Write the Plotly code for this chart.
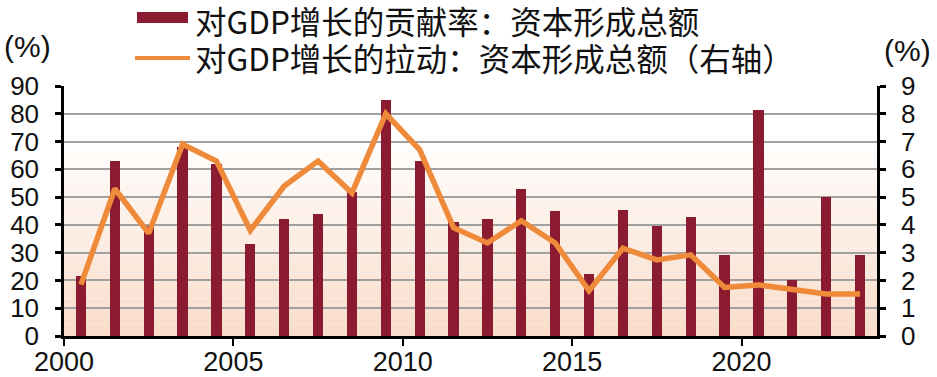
import plotly.graph_objects as go

years = list(range(2000, 2024))
contribution = [21.5, 63, 39.5, 68, 62, 33, 42, 44, 52, 85, 63, 41,
                42, 53, 45, 22.5, 45.5, 39.5, 43, 29, 81.5, 20, 50, 29]
pull = [1.85, 5.3, 3.7, 6.9, 6.3, 3.8, 5.4, 6.3, 5.15, 8.0, 6.7, 3.9,
        3.35, 4.15, 3.35, 1.63, 3.16, 2.74, 2.92, 1.75, 1.84, 1.68, 1.51, 1.51]
x_ticks = [2000, 2005, 2010, 2015, 2020]
name_bar = "对GDP增长的贡献率：资本形成总额"
name_line = "对GDP增长的拉动：资本形成总额（右轴）"

BAR = "#8B1B30"
LINE = "#EE8A3A"
W, H = 937, 377
L, R, T, B = 64, 60, 86, 41
PW, PH = W - L - R, H - T - B

def px(x):
    return (x - L) / PW

def py(y):
    return (H - B - y) / PH

xs = [y + 0.5 for y in years]

fig = go.Figure()
fig.add_trace(go.Bar(x=xs, y=contribution, width=0.3, marker_color=BAR,
                     marker_line_width=0, name=name_bar, showlegend=False))
fig.add_trace(go.Scatter(x=xs, y=pull, yaxis="y2", mode="lines",
                         line=dict(color=LINE, width=5.5), name=name_line,
                         showlegend=False))

shapes = []
n = 40
for i in range(n):
    t0 = i / n
    t1 = (i + 1) / n
    f = max(0.0, 1 - (t0 / 0.8))
    r = round(255 - (255 - 249) * f)
    g = round(255 - (255 - 220) * f)
    b = round(255 - (255 - 201) * f)
    shapes.append(dict(type="rect", xref="paper", yref="paper", x0=0, x1=1,
                       y0=t0, y1=t1, fillcolor=f"rgb({r},{g},{b})",
                       line_width=0, layer="below"))

# legend symbols
shapes.append(dict(type="rect", xref="paper", yref="paper",
                   x0=px(137), x1=px(188), y0=py(23), y1=py(12),
                   fillcolor=BAR, line_width=0))
shapes.append(dict(type="line", xref="paper", yref="paper",
                   x0=px(135), x1=px(190), y0=py(58), y1=py(58),
                   line=dict(color=LINE, width=4)))

cjk = "Noto Sans CJK SC"
annotations = [
    dict(text=name_bar, xref="paper", yref="paper", x=px(193), y=py(20),
         xanchor="left", yanchor="middle", showarrow=False,
         font=dict(family=cjk, size=31.5, color="#111")),
    dict(text=name_line, xref="paper", yref="paper", x=px(193), y=py(57),
         xanchor="left", yanchor="middle", showarrow=False,
         font=dict(family=cjk, size=31.5, color="#111")),
    dict(text="(%)", xref="paper", yref="paper", x=px(27), y=py(46),
         xanchor="center", yanchor="middle", showarrow=False,
         font=dict(family="Liberation Sans", size=30, color="#111")),
    dict(text="(%)", xref="paper", yref="paper", x=px(908), y=py(50),
         xanchor="center", yanchor="middle", showarrow=False,
         font=dict(family="Liberation Sans", size=30, color="#111")),
]

tickfont = dict(family="Liberation Sans", size=26, color="#111")
fig.update_layout(
    width=W, height=H,
    margin=dict(l=L, r=R, t=T, b=B, pad=0),
    paper_bgcolor="white", plot_bgcolor="white",
    shapes=shapes, annotations=annotations,
    bargap=0,
    xaxis=dict(range=[2000, 2024], tickvals=x_ticks, ticks="outside",
               ticklen=7, tickwidth=2, tickcolor="black", showline=True,
               linecolor="black", linewidth=2.5, showgrid=False,
               zeroline=False, ticklabelstandoff=-7,
               tickfont=dict(family="Liberation Sans", size=27, color="#111"),
               automargin=False),
    yaxis=dict(range=[0, 90], dtick=10, ticks="outside", ticklen=6,
               tickwidth=2.5, tickcolor="black", showline=True,
               linecolor="black", linewidth=2.5, showgrid=True,
               gridcolor="#A0A0A0", gridwidth=1.5, zeroline=False,
               ticklabelstandoff=11,
               tickfont=tickfont, automargin=False),
    yaxis2=dict(range=[0, 9], dtick=1, overlaying="y", side="right",
                ticks="outside", ticklen=6, tickwidth=2.5, tickcolor="black",
                showline=True, linecolor="black", linewidth=2.5,
                showgrid=False, zeroline=False, ticklabelstandoff=10,
                tickfont=tickfont, automargin=False),
)

fig.write_html("out.html", config={"displayModeBar": False},
               post_script="document.body.style.margin='0';document.body.style.overflow='hidden';")
